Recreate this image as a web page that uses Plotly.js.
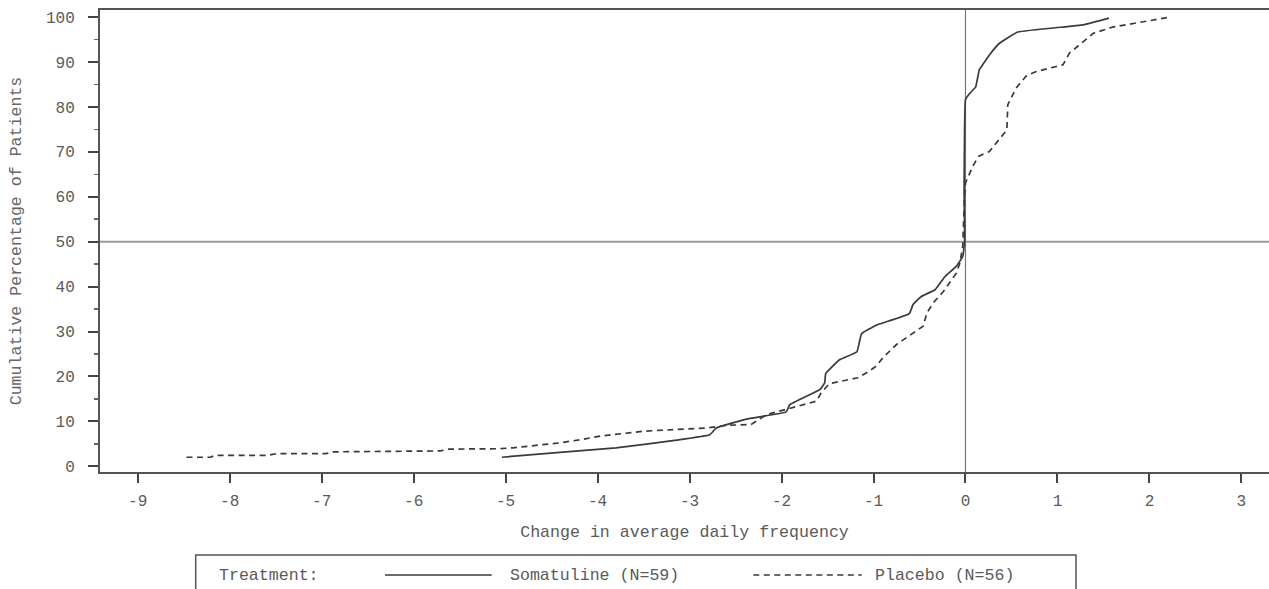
<!DOCTYPE html>
<html>
<head>
<meta charset="utf-8">
<script src="https://cdn.plot.ly/plotly-3.0.1.min.js"></script>
<style>
  html, body { margin: 0; padding: 0; background: #fff; overflow: hidden; }
  #chart { width: 1269px; height: 589px; }
</style>
</head>
<body>
<div id="chart"></div>
<script>
// ---- data ----
const somaX = [-5.04, -4.41, -3.80, -3.14, -2.78, -2.71, -2.38, -1.95, -1.91, -1.58, -1.53, -1.52, -1.37, -1.18, -1.13, -0.97, -0.61, -0.57, -0.48, -0.33, -0.22, -0.10, -0.03, -0.01, -0.015, -0.01, 0.00, 0.05, 0.11, 0.15, 0.18, 0.26, 0.37, 0.57, 1.28, 1.56];
const somaY = [2.0, 3.1, 4.1, 5.8, 7.0, 8.5, 10.5, 12.1, 13.7, 17.1, 18.6, 20.6, 23.7, 25.5, 29.5, 31.4, 34.0, 36.0, 37.8, 39.3, 42.3, 44.5, 46.7, 50.0, 61.5, 74.2, 81.6, 83.1, 84.4, 88.3, 89.2, 91.6, 94.2, 96.7, 98.3, 99.8];

const placX = [-8.47, -8.21, -8.16, -7.60, -7.49, -6.95, -6.89, -5.71, -5.62, -5.06, -4.92, -4.41, -4.19, -3.97, -3.50, -2.82, -2.60, -2.33, -2.16, -1.95, -1.62, -1.57, -1.48, -1.17, -1.06, -0.97, -0.90, -0.75, -0.57, -0.46, -0.42, -0.35, -0.24, -0.19, -0.10, -0.06, -0.03, -0.01, 0.00, 0.08, 0.14, 0.26, 0.45, 0.46, 0.55, 0.66, 0.77, 1.06, 1.13, 1.39, 1.60, 2.22];
const placY = [2.0, 2.0, 2.4, 2.4, 2.8, 2.8, 3.2, 3.4, 3.8, 3.9, 4.1, 5.2, 5.9, 6.7, 7.8, 8.5, 9.1, 9.3, 11.5, 12.6, 14.5, 16.3, 18.4, 19.7, 21.0, 22.3, 24.1, 27.1, 29.7, 31.2, 34.1, 36.4, 38.9, 40.4, 43.0, 45.3, 49.0, 60.0, 63.1, 66.8, 69.0, 70.1, 74.9, 80.5, 84.2, 86.9, 87.9, 89.4, 92.0, 96.4, 97.8, 100.0];

const seriesNames = ["Somatuline (N=59)", "Placebo (N=56)"];
const legendTitle = "Treatment:";
const xTickVals = [-9, -8, -7, -6, -5, -4, -3, -2, -1, 0, 1, 2, 3];
const yTickVals = [0, 10, 20, 30, 40, 50, 60, 70, 80, 90, 100];
const refX = 0;
const refY = 50;
const xTitle = "Change in average daily frequency";
const yTitle = "Cumulative Percentage of Patients";

// ---- layout geometry ----
const W = 1269, H = 589;
const M = { l: 100, r: 0, t: 10, b: 117 };
const plotW = W - M.l - M.r, plotH = H - M.t - M.b;
const px2x = p => (p - M.l) / plotW;
const px2y = p => (H - M.b - p) / plotH;

const FONT = '"Liberation Mono", "Courier New", monospace';
const lineColor = '#3a3a3a';
const textColor = '#5a5a5a';

const traces = [
  { x: somaX, y: somaY, name: seriesNames[0], type: 'scatter', mode: 'lines',
    line: { color: lineColor, width: 1.7, dash: 'solid', shape: 'spline', smoothing: 0.3 }, showlegend: false, hoverinfo: 'x+y+name' },
  { x: placX, y: placY, name: seriesNames[1], type: 'scatter', mode: 'lines',
    line: { color: lineColor, width: 1.7, dash: '6px,4.5px' }, showlegend: false, hoverinfo: 'x+y+name' }
];

const legY = 575;
const layout = {
  width: W, height: H,
  margin: M,
  paper_bgcolor: '#ffffff', plot_bgcolor: '#ffffff',
  font: { family: FONT, color: textColor, size: 16 },
  showlegend: false,
  xaxis: {
    range: [-9.41, 3.30],
    tickvals: xTickVals,
    ticktext: xTickVals.map(v => v < 0 ? '-' + Math.abs(v) : String(v)),
    ticks: 'outside', ticklen: 9, tickwidth: 2, tickcolor: '#444',
    ticklabelstandoff: 4,
    tickfont: { family: FONT, size: 16, color: textColor },
    showline: true, linecolor: '#555', linewidth: 2, mirror: true,
    showgrid: false, zeroline: false,
    title: { text: xTitle, font: { family: FONT, size: 16.6, color: textColor }, standoff: 15 }
  },
  yaxis: {
    range: [-1.29, 101.6],
    tickvals: yTickVals,
    ticks: 'outside', ticklen: 10, tickwidth: 2, tickcolor: '#444',
    ticklabelstandoff: 10,
    minor: { dtick: 5, tick0: 5, ticks: 'outside', ticklen: 4, tickwidth: 1.5, tickcolor: '#666', showgrid: false },
    tickfont: { family: FONT, size: 16, color: textColor },
    showline: true, linecolor: '#555', linewidth: 2, mirror: false,
    showgrid: false, zeroline: false,
    title: { text: yTitle, font: { family: FONT, size: 16.6, color: '#666' }, standoff: 20 }
  },
  shapes: [
    { type: 'line', xref: 'paper', yref: 'y', x0: 0, x1: 1, y0: refY, y1: refY,
      line: { color: '#9a9a9a', width: 2 }, layer: 'below' },
    { type: 'line', xref: 'x', yref: 'paper', x0: refX, x1: refX, y0: 0, y1: 1,
      line: { color: '#777', width: 1.2 }, layer: 'below' },
    // legend box
    { type: 'rect', xref: 'paper', yref: 'paper',
      x0: px2x(195.7), x1: px2x(1076), y0: px2y(555), y1: px2y(605),
      line: { color: '#555', width: 1.5 }, fillcolor: 'rgba(0,0,0,0)' },
    // legend line samples
    { type: 'line', xref: 'paper', yref: 'paper',
      x0: px2x(385), x1: px2x(491.7), y0: px2y(legY), y1: px2y(legY),
      line: { color: lineColor, width: 1.7, dash: 'solid' } },
    { type: 'line', xref: 'paper', yref: 'paper',
      x0: px2x(753.3), x1: px2x(861.7), y0: px2y(legY), y1: px2y(legY),
      line: { color: lineColor, width: 1.7, dash: '6px,4.5px' } }
  ],
  annotations: [
    { text: legendTitle, xref: 'paper', yref: 'paper', x: px2x(216.7), y: px2y(legY),
      xanchor: 'left', yanchor: 'middle', showarrow: false,
      font: { family: FONT, size: 16.6, color: textColor } },
    { text: seriesNames[0], xref: 'paper', yref: 'paper', x: px2x(508.3), y: px2y(legY),
      xanchor: 'left', yanchor: 'middle', showarrow: false,
      font: { family: FONT, size: 16.6, color: textColor } },
    { text: seriesNames[1], xref: 'paper', yref: 'paper', x: px2x(873.3), y: px2y(legY),
      xanchor: 'left', yanchor: 'middle', showarrow: false,
      font: { family: FONT, size: 16.6, color: textColor } }
  ]
};

Plotly.newPlot('chart', traces, layout, { displayModeBar: false, staticPlot: true });
</script>
</body>
</html>
